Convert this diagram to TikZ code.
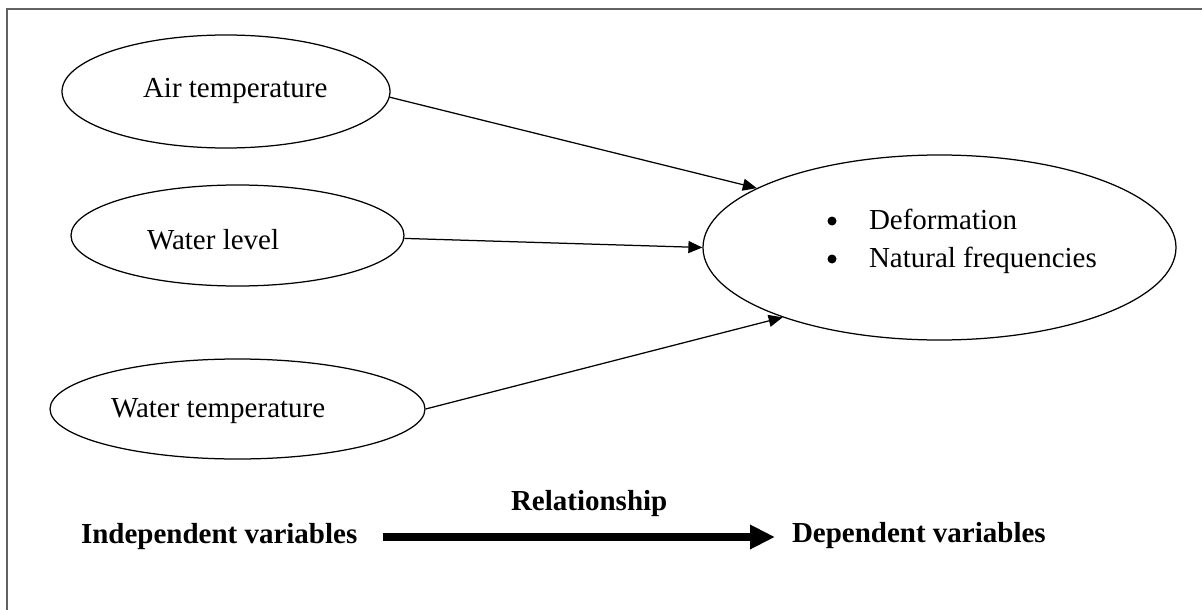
\documentclass[tikz,border=0pt]{standalone}
\usepackage{fontspec}
\setmainfont{Liberation Serif}
\usetikzlibrary{shapes.geometric,arrows.meta}

\tikzset{
  oval/.style={ellipse, draw=black, line width=1.25pt, inner sep=0pt},
  txt/.style={anchor=base west, inner sep=0pt, outer sep=0pt},
  dot/.style={circle, fill=black, inner sep=0pt, minimum size=9pt},
  link/.style={line width=1.25pt, -{Triangle[length=14pt,width=12pt]}},
  bigarrow/.style={line width=8.5pt, -{Triangle[length=25pt,width=23pt]}},
  frame/.style={draw=black!62, line width=1.5pt}
}

\begin{document}
\begin{tikzpicture}[x=1pt, y=-1pt, font=\fontsize{29}{38}\selectfont]
  \useasboundingbox (0,0) rectangle (1202,610);

  % partial frame (top and left edges)
  \draw[frame] (1202,9) -- (7,9) -- (7,610);

  % independent variables
  \node[oval, minimum width=328pt, minimum height=113pt] (air) at (226,91.5) {};
  \node[txt] (airt) at (143,97) {Air temperature};

  \node[oval, minimum width=333pt, minimum height=101pt] (wl) at (237.5,235.5) {};
  \node[txt] (wlt) at (147,249) {Water level};

  \node[oval, minimum width=375pt, minimum height=100pt] (wt) at (237.5,409) {};
  \node[txt] (wtt) at (111,417) {Water temperature};

  % dependent variables
  \node[oval, minimum width=473pt, minimum height=185pt] (dep) at (939.5,247.5) {};
  \node[dot] (b1) at (832,221) {};
  \node[txt] (d1) at (869,229) {Deformation};
  \node[dot] (b2) at (832,259) {};
  \node[txt] (d2) at (869,267) {Natural frequencies};

  % relationships
  \draw[link] (air.-2) -- (dep.162.5);
  \draw[link] (wl.-1) -- (dep.180);
  \draw[link] (wt.0) -- (dep.204);

  % legend
  \node[txt, font=\fontsize{29}{38}\selectfont\bfseries] (indep) at (81,543) {Independent variables};
  \node[txt, font=\fontsize{29}{38}\selectfont\bfseries] (rel) at (511,510) {Relationship};
  \node[txt, font=\fontsize{29}{38}\selectfont\bfseries] (depv) at (792,542) {Dependent variables};
  \draw[bigarrow] ([xshift=26pt,yshift=6pt]indep.base east) -- ([xshift=-17pt,yshift=5pt]depv.base west);
\end{tikzpicture}
\end{document}
